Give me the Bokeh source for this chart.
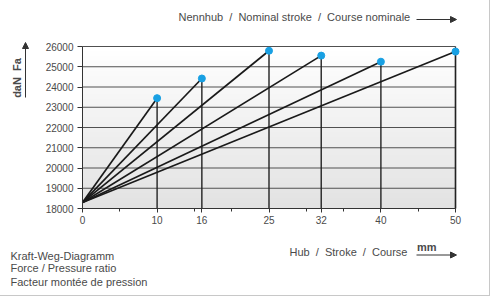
import numpy as np
from bokeh.plotting import figure
from bokeh.models import (Range1d, FixedTicker, Label, Arrow, NormalHead)
from bokeh.embed import file_html
from bokeh.resources import INLINE

# ---- data ----
strokes = [10, 16, 25, 32, 40, 50]                        # mm (nominal stroke)
end_force = [23450, 24420, 25790, 25550, 25250, 25750]    # daN at nominal stroke
start_force = 18300                                       # daN at 0 mm
x_ticks = [0, 10, 16, 25, 32, 40, 50]
x_minor = [5, 15, 20, 30, 35, 45]
y_levels = [18000, 19000, 20000, 21000, 22000, 23000, 24000, 25000, 26000]
x_min, x_max = 0, 50
y_min, y_max = 18000, 26000

FONT = "Liberation Sans"
TXT = "#4a4a4a"
LINE = "#333333"
SP = "\u00a0"

# ---- layout (canvas pixels) ----
W, H = 490, 296
PX0, PX1 = 82, 455      # x = 0 / 50
PY1, PY0 = 46, 208      # y = 26000 / 18000
sx = (PX1 - PX0) / (x_max - x_min)
sy = (PY0 - PY1) / (y_max - y_min)
xr = Range1d(x_min - PX0 / sx, x_max + (W - PX1) / sx)
yr = Range1d(y_min - (H - PY0) / sy, y_max + PY1 / sy)

def dx(px):
    return xr.start + px / sx

def dy(py):
    return yr.end - py / sy

p = figure(width=W, height=H, output_backend="svg", toolbar_location=None,
           x_range=xr, y_range=yr, min_border=0)
p.title.visible = False
p.styles = {"border-right": "1px solid #c8c8c8", "border-bottom": "1px solid #c8c8c8"}
p.background_fill_color = "white"
p.border_fill_color = "white"
p.outline_line_color = None
p.xgrid.visible = False
p.ygrid.visible = False

# gradient background of the plot area
n = 64
t = np.linspace(0, 1, n)  # bottom -> top
shade = np.round(226 + (255 - 226) * t).astype(np.uint8)
img = np.empty((n, 1), dtype=np.uint32)
view = img.view(dtype=np.uint8).reshape((n, 1, 4))
view[:, 0, 0] = shade
view[:, 0, 1] = shade
view[:, 0, 2] = shade
view[:, 0, 3] = 255
r_img = p.image_rgba(image=[img], x=x_min, y=y_min, dw=x_max - x_min, dh=y_max - y_min)
r_img.level = "image"

# horizontal grid lines
p.segment(x0=[x_min] * len(y_levels), y0=y_levels, x1=[x_max] * len(y_levels), y1=y_levels,
          line_color="#505050", line_width=1.1)
# right frame border
p.segment(x0=[x_max], y0=[y_min], x1=[x_max], y1=[y_max], line_color=LINE, line_width=1.3)

# vertical lines at nominal strokes
p.segment(x0=strokes, y0=[y_min] * len(strokes), x1=strokes, y1=end_force,
          line_color="#222222", line_width=1.4)
# sloped force lines
p.segment(x0=[0] * len(strokes), y0=[start_force] * len(strokes), x1=strokes, y1=end_force,
          line_color="#1a1a1a", line_width=1.7)
# end points
p.scatter(strokes, end_force, size=7, color="#18a0e3", line_color="#18a0e3")

# axes placed inside the frame
xa = p.xaxis[0]
xa.fixed_location = y_min
xa.bounds = (x_min, x_max)
xa.ticker = FixedTicker(ticks=x_ticks, minor_ticks=x_minor)
xa.axis_line_color = LINE
xa.major_tick_line_color = LINE
xa.minor_tick_line_color = LINE
xa.major_tick_in = 0
xa.major_tick_out = 4
xa.minor_tick_in = 0
xa.minor_tick_out = 3
xa.major_label_standoff = 3
xa.major_label_text_font = FONT
xa.major_label_text_font_size = "10px"
xa.major_label_text_color = TXT

ya = p.yaxis[0]
ya.fixed_location = x_min
ya.bounds = (y_min, y_max)
ya.ticker = FixedTicker(ticks=y_levels)
ya.axis_line_color = LINE
ya.major_tick_line_color = LINE
ya.major_tick_in = 0
ya.major_tick_out = 5
ya.minor_tick_line_color = None
ya.major_label_standoff = 4
ya.major_label_text_font = FONT
ya.major_label_text_font_size = "10px"
ya.major_label_text_color = TXT

def label(text, px, py, size="11px", bold=False, angle=0, align="left"):
    p.add_layout(Label(x=dx(px), y=dy(py), text=text, text_font=FONT,
                       text_font_size=size, text_color=TXT,
                       text_font_style="bold" if bold else "normal",
                       angle=angle, text_align=align, text_baseline="middle"))

def arrow(px0, py0, px1, py1):
    p.add_layout(Arrow(x_start=dx(px0), y_start=dy(py0), x_end=dx(px1), y_end=dy(py1),
                       line_color=LINE, line_width=1,
                       end=NormalHead(size=6, fill_color=LINE, line_color=LINE)))

sep = SP + SP + "/" + SP + SP
label(sep.join(["Nennhub", "Nominal stroke", "Course nominale"]), 178, 16.7)
arrow(416, 19, 456, 19)

label("daN" + SP + SP + "Fa", 16, 77.5, bold=True, angle=np.pi / 2, align="center")
arrow(25, 97, 25, 42)

label(sep.join(["Hub", "Stroke", "Course"]), 289, 251)
label("mm", 416.5, 246.5, bold=True)
arrow(416, 254.5, 456, 254.5)

label("Kraft-Weg-Diagramm", 10, 255)
label("Force / Pressure ratio", 10, 267.5)
label("Facteur montée de pression", 10, 281)

html = file_html(p, INLINE)
html = html.replace("<head>", "<head><style>html, body { margin: 0; padding: 0; }</style>", 1)
open("out.html", "w").write(html)
